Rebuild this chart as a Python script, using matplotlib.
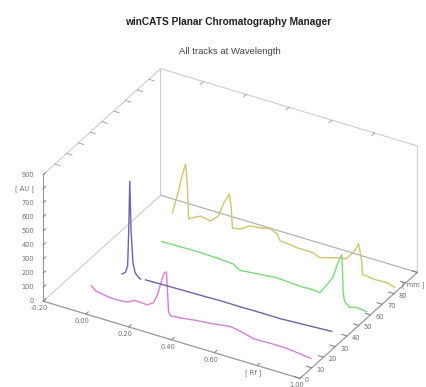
import numpy as np
import matplotlib
matplotlib.use('Agg')
import matplotlib.pyplot as plt
from mpl_toolkits.mplot3d import proj3d

title = "winCATS Planar Chromatography Manager"
subtitle = "All tracks at Wavelength"

rf_ticks = [-0.2, 0.0, 0.2, 0.4, 0.6, 0.8, 1.0]
rf_labels = ['-0.20', '0.00', '0.20', '0.40', '0.60', '[ Rf ]', '1.00']
mm_ticks = [0, 10, 20, 30, 40, 50, 60, 70, 80, 90, 100]
mm_labels = ['0', '10', '20', '30', '40', '50', '60', '70', '80', '[ mm ]', '']
au_ticks = [0, 100, 200, 300, 400, 500, 600, 700, 800, 900]
au_labels = ['0', '100', '200', '300', '400', '500', '600', '700', '[ AU ]', '900']

# track positions (mm)
pink_mm = 12
purple_mm = 30
green_mm = 58
yellow_mm = 82

pink_rf = [-0.04, -0.02, 0.05, 0.10, 0.13, 0.16, 0.22, 0.25, 0.27, 0.29, 0.30, 0.31,
           0.315, 0.32, 0.33, 0.38, 0.45, 0.52, 0.61, 0.66, 0.72, 0.80, 0.87, 0.93, 0.985]
pink_au = [91, 64, 47, 47, 55, 80, 76, 104, 178, 295, 340, 351,
           214, 72, 48, 55, 70, 80, 100, 85, 62, 66, 65, 55, 45]

purple_rf = [0.003, 0.02, 0.030, 0.035, 0.040, 0.046, 0.055, 0.065, 0.08, 0.091, np.nan,
             0.114, 0.20, 0.30, 0.40, 0.464, 0.55, 0.65, 0.742, 0.85, 0.984]
purple_au = [60, 80, 130, 380, 736, 386, 163, 97, 72, 64, np.nan,
             69, 72, 75, 78, 81, 80, 82, 81, 90, 101]

green_rf = [0.035, 0.10, 0.217, 0.30, 0.370, 0.385, 0.403, 0.482, 0.575, 0.649, 0.70,
            0.728, 0.775, 0.812, 0.835, 0.863, 0.877, 0.880, 0.884, 0.89, 0.914, 0.947, 0.993]
green_au = [95, 97, 100, 95, 89, 70, 58, 70, 84, 76, 72,
            77, 70, 151, 204, 338, 387, 275, 120, 62, 30, 43, 35]

yellow_rf = [-0.046, -0.018, 0.001, 0.015, 0.024, 0.030, 0.039, 0.085, 0.131, 0.168, 0.192,
             0.220, 0.229, 0.234, 0.271, 0.317, 0.364, 0.410, 0.443, 0.457, 0.494, 0.536,
             0.582, 0.610, 0.643, 0.703, 0.768, 0.806, 0.824, 0.838, 0.843, 0.899, 0.955, 0.992]
yellow_au = [79, 248, 377, 455, 303, 70, 82, 118, 104, 156, 253,
             336, 242, 102, 111, 154, 162, 177, 156, 113, 108, 99,
             99, 98, 77, 105, 128, 202, 260, 147, 50, 39, 44, 26]

tracks = [
    (pink_rf, pink_au, pink_mm, '#d67fd6'),
    (purple_rf, purple_au, purple_mm, '#6f62ab'),
    (green_rf, green_au, green_mm, '#78dc78'),
    (yellow_rf, yellow_au, yellow_mm, '#cfc66c'),
]

W, H = 426, 387
fig = plt.figure(figsize=(W / 100, H / 100), dpi=100)
fig.patch.set_facecolor('white')
ax = fig.add_axes([0.05, 0.05, 0.9, 0.9 * W / H], projection='3d', proj_type='ortho')
ax.view_init(elev=31.4, azim=-60)
ax.set_box_aspect((298, 236, 149))

for rf, au, mm, col in tracks:
    rf = np.asarray(rf, float)
    au = np.asarray(au, float)
    ax.plot(rf, np.full_like(rf, mm), au, color=col, lw=1.0)

xmin, xmax = -0.2, 1.0
ymin, ymax = 0, 100
zmin, zmax = 0, 900
ax.set_xlim(xmin, xmax)
ax.set_ylim(ymin, ymax)
ax.set_zlim(zmin, zmax)

ax.set_xticks(rf_ticks)
ax.set_yticks(mm_ticks)
ax.set_zticks(au_ticks)
ax.set_xticklabels([])
ax.set_yticklabels([])
ax.set_zticklabels([])

edge = '#9a9a9a'
ax.grid(False)
for axis in (ax.xaxis, ax.yaxis, ax.zaxis):
    axis.pane.fill = False
    axis.pane.set_edgecolor(edge)
    axis.pane.set_linewidth(0.8)
    axis.line.set_color(edge)
    axis.line.set_linewidth(0.8)
    axis._axinfo['tick']['inward_factor'] = 0.0
    axis._axinfo['tick']['outward_factor'] = 0.25
ax.zaxis.set_ticks_position('lower')
ax.tick_params(axis='both', colors='#888888', width=0.6)

# mirrored tick marks on the top edges
for t in mm_ticks[1:-1]:
    ax.plot([xmin, xmin + 0.025], [t, t], [zmax, zmax], color=edge, lw=0.6)
for t in rf_ticks[1:-1]:
    ax.plot([t, t], [ymax, ymax - 2.5], [zmax, zmax], color=edge, lw=0.6)

fig.text(228 / W, 1 - 22 / H, title, ha='center', va='center',
         fontsize=7.3, fontweight='bold', family='Liberation Sans', color='#222222')
fig.text(230 / W, 1 - 51 / H, subtitle, ha='center', va='center',
         fontsize=6.8, family='Liberation Sans', color='#444444')

# fit box corners to target pixel positions
corners = [(xmin, ymin, zmin), (xmax, ymin, zmin), (xmin, ymax, zmax), (xmax, ymax, zmax),
           (xmin, ymin, zmax), (xmin, ymax, zmin)]
targets = [(42, 300), (300, 378), (161, 72), (418, 143), (42, 173), (162, 198)]


def to_px(x, y, z):
    M = ax.get_proj()
    xs, ys, _ = proj3d.proj_transform(x, y, z, M)
    return ax.transData.transform((xs, ys))


for _ in range(2):
    fig.canvas.draw()
    bb = ax.bbox
    L = bb.width
    us = []
    for (x, y, z) in corners:
        px, py = to_px(x, y, z)
        us.append(((px - bb.x0) / L, (py - bb.y0) / L))
    us = np.array(us)
    T = np.array([(tx, H - ty) for tx, ty in targets], float)
    A = []
    b = []
    for (ux, uy), (tx, ty) in zip(us, T):
        A.append([ux, 1, 0]); b.append(tx)
        A.append([uy, 0, 1]); b.append(ty)
    sol, *_ = np.linalg.lstsq(np.array(A), np.array(b), rcond=None)
    Lp, ox, oy = sol
    ax.set_position([ox / W, oy / H, Lp / W, Lp / H])

fig.canvas.draw()

# tick labels placed next to the projected axes (2D text)
lab_kw = dict(fontsize=4.8, color='#6f6f6f', family='DejaVu Sans')
for t, s in zip(rf_ticks, rf_labels):
    px, py = to_px(t, ymin, zmin)
    fig.text((px - 3.5) / W, (py - 7) / H, s, ha='center', va='center', **lab_kw)
y_texts = []
for t, s in zip(mm_ticks, mm_labels):
    if s:
        px, py = to_px(xmax, t, zmin)
        y_texts.append(fig.text((px + 5) / W, (py - 2) / H, s, ha='left', va='center', **lab_kw))
for t, s in zip(au_ticks, au_labels):
    px, py = to_px(xmin, ymin, t)
    fig.text((px - 9) / W, py / H, s, ha='right', va='center', **lab_kw)

# keep the right-most label inside the canvas
renderer = fig.canvas.get_renderer()
for txt in y_texts:
    ext = txt.get_window_extent(renderer)
    if ext.x1 > W - 1:
        x, y = txt.get_position()
        txt.set_position((x - (ext.x1 - (W - 1)) / W, y))

fig.savefig('out.png', dpi=100, facecolor='white')
